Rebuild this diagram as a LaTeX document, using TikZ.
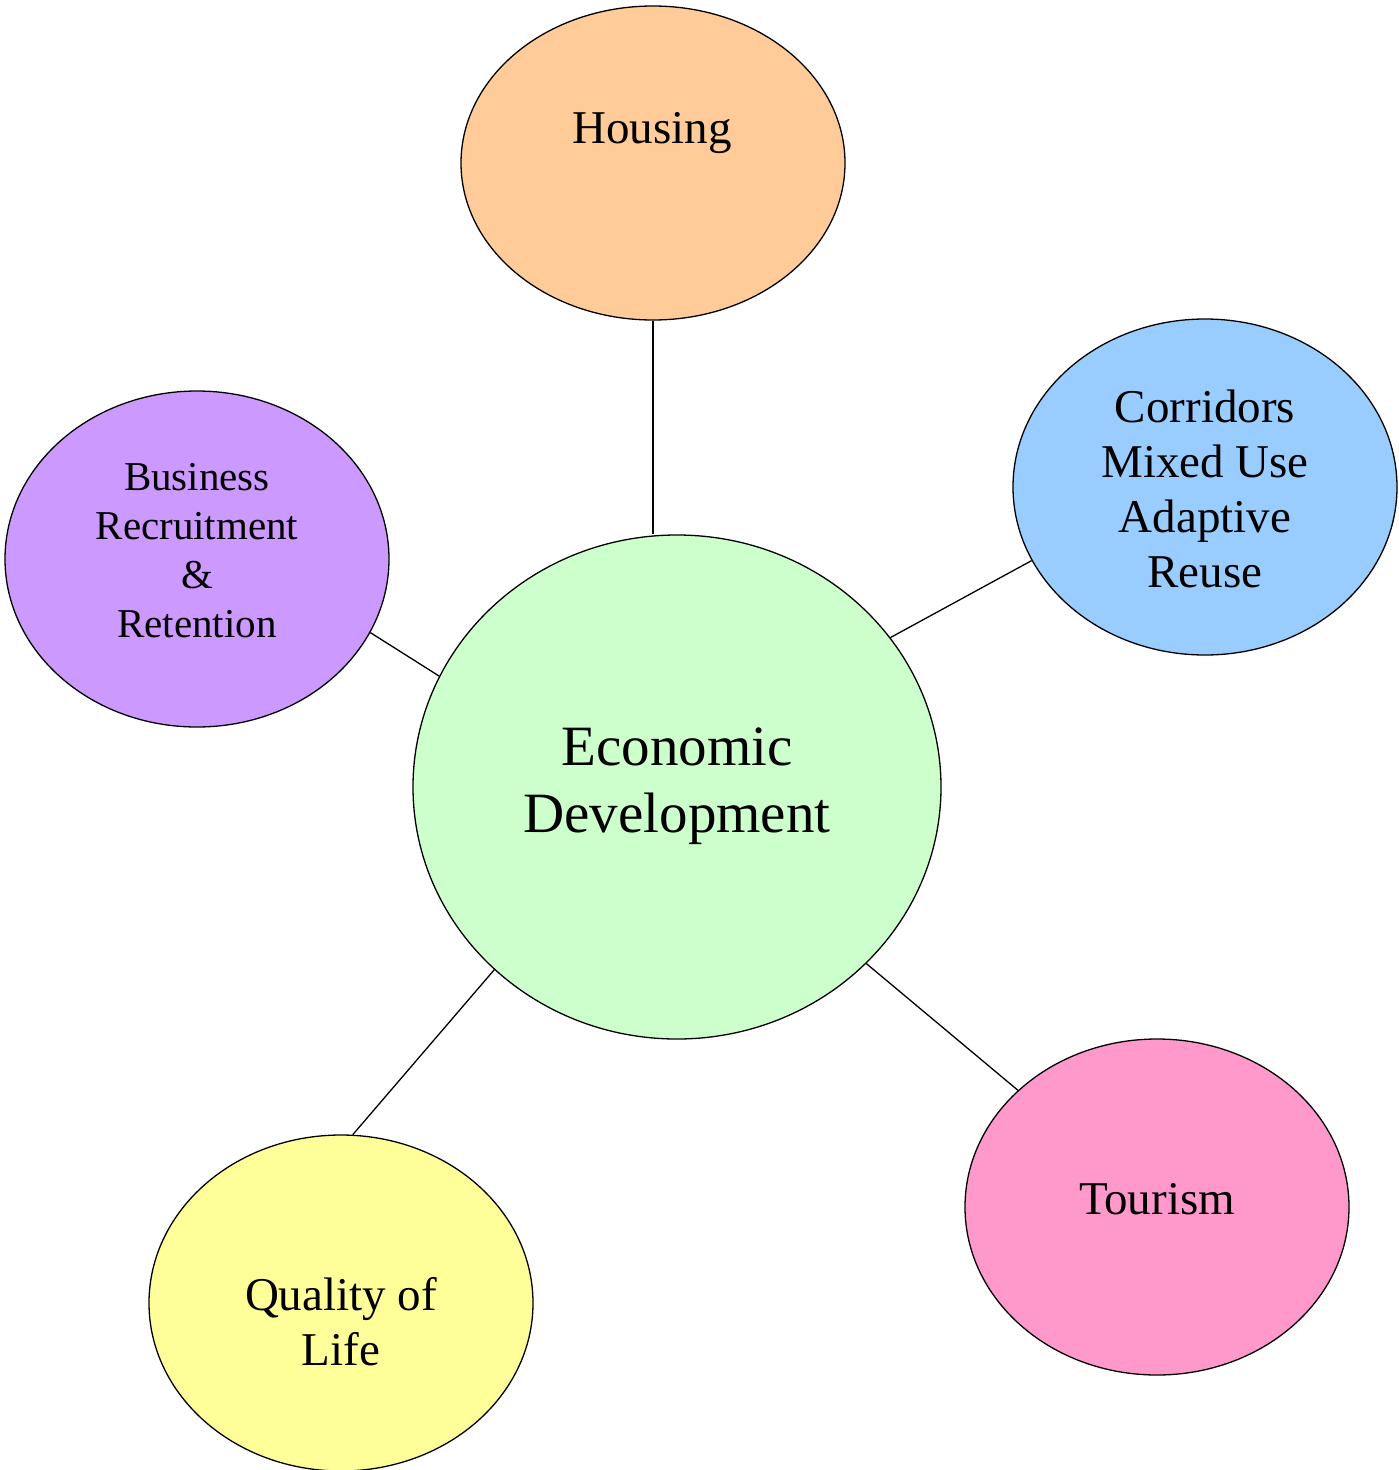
\documentclass[tikz,border=0pt]{standalone}
\usepackage{fontspec}
\setmainfont{Liberation Serif}
\usetikzlibrary{shapes.geometric}
\definecolor{cHousing}{HTML}{FFCC99}
\definecolor{cCorr}{HTML}{99CCFF}
\definecolor{cBiz}{HTML}{CC99FF}
\definecolor{cCenter}{HTML}{CCFFCC}
\definecolor{cTour}{HTML}{FF99CC}
\definecolor{cQual}{HTML}{FFFF99}
\tikzset{
  bubble/.style={ellipse, draw=black, line width=1.3pt, inner sep=0pt,
    minimum width=384pt, minimum height=336pt},
  label47/.style={inner sep=0pt, anchor=base, align=center, font=\fontsize{47}{55}\selectfont},
  label41/.style={inner sep=0pt, anchor=base, align=center, font=\fontsize{41}{49}\selectfont},
  label57/.style={inner sep=0pt, anchor=base, align=center, font=\fontsize{57}{67}\selectfont},
  link/.style={draw=black, line width=1.3pt}
}
\begin{document}
\begin{tikzpicture}[x=1pt,y=-1pt]
\path[use as bounding box, fill=white] (0,0) rectangle (1398,1470);
\node[bubble, fill=cHousing, minimum height=314pt] (housing) at (653,163) {};
\node[bubble, fill=cCorr] (corr) at (1205,487) {};
\node[bubble, fill=cBiz] (biz) at (197,559) {};
\node[bubble, fill=cCenter, minimum width=528pt, minimum height=504pt] (center) at (677,787) {};
\node[bubble, fill=cTour] (tour) at (1157,1207) {};
\node[bubble, fill=cQual] (qual) at (341,1303) {};

\node[label47] (housingtext) at (652,143) {Housing};
\node[label47] (corrtext) at (1205,587) {Corridors\\Mixed Use\\Adaptive\\Reuse};
\node[label41] (biztext) at (197,637) {Business\\Recruitment\\\&\\Retention};
\node[label57] (centertext) at (677,832) {Economic\\Development};
\node[label47] (tourtext) at (1157,1214) {Tourism};
\node[label47] (qualtext) at (341,1365) {Quality of\\Life};

\draw[link] (housing.south) -- (housing.south |- center.north);
\draw[link] (center.35.8) -- (corr.203.2);
\draw[link] (center.155.6) -- (biz.-23.1);
\draw[link] (center.-43.2) -- (tour.140.2);
\draw[link] (center.225) -- (qual.86);
\end{tikzpicture}
\end{document}
